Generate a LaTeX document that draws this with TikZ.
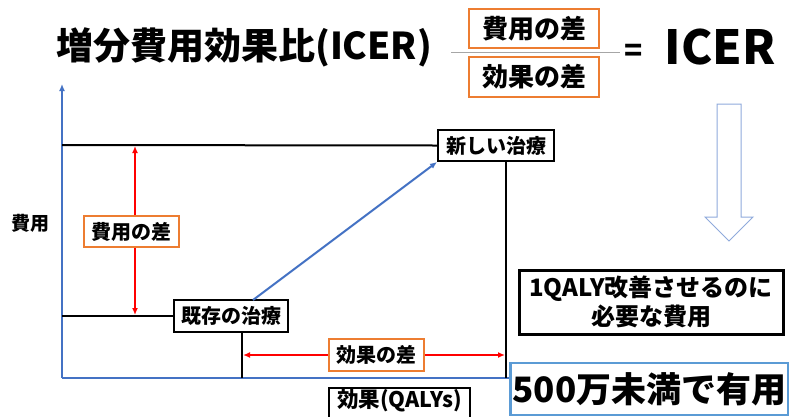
\documentclass[tikz,border=0pt]{standalone}
\usepackage{fontspec}
\setmainfont{Noto Sans CJK JP}
\usetikzlibrary{arrows.meta}
\definecolor{axisblue}{HTML}{4472C4}
\definecolor{boxorange}{HTML}{ED7D31}
\definecolor{boxblue}{HTML}{5B9BD5}
\definecolor{arrowblue}{HTML}{8FAADC}
\newcommand{\fs}[1]{\fontsize{#1}{#1}\selectfont\bfseries}
\tikzset{
  x=1pt, y=-1pt,
  orangebox/.style={draw=boxorange, line width=2.5pt, fill=white, inner sep=0pt, align=center},
  blackbox/.style={draw=black, line width=2pt, fill=white, inner sep=0pt, align=center},
  axisline/.style={draw=axisblue, line width=2pt},
  blackline/.style={draw=black, line width=2pt},
  redarrow/.style={draw=red, line width=1.6pt, {Latex[length=7pt,width=6pt]}-{Latex[length=7pt,width=6pt]}},
}
\begin{document}
\begin{tikzpicture}
\useasboundingbox (0,0) rectangle (789,416);
\fill[white] (0,0) rectangle (789,416);
% title
\node[anchor=west, inner sep=0pt] (title) at (56,47) {\fs{37}増分費用効果比(ICER)};
\node[orangebox, minimum width=130pt, minimum height=39pt] (num) at (534,28.5) {\fs{26}費用の差};
\node[orangebox, minimum width=130pt, minimum height=40pt] (den) at (534,77) {\fs{26}効果の差};
\coordinate (fl) at (451,52);
\coordinate (fr) at (620,52);
\draw[draw=black!35, line width=1pt] (fl) -- (fr);
\node[inner sep=0pt] (eq) at (634,53) {\fs{30}=};
\node[inner sep=0pt] (icer) at (720,47) {\fs{47}ICER};
% axes
\coordinate (O) at (62,378);
\coordinate (ytop) at (62,84);
\coordinate (xend) at (530,378);
\path[axisline] (O) -- (xend);
\draw[axisline, -{Latex[length=7pt,width=6pt]}] (O) -- (ytop);
\node[inner sep=0pt] (ylab) at (31,223) {\fs{19}費用};
% treatments
\node[blackbox, minimum width=116pt, minimum height=31pt] (new) at (496,145.5) {\fs{20}新しい治療};
\node[blackbox, minimum width=114pt, minimum height=32pt] (old) at (231,316) {\fs{20}既存の治療};
\coordinate (ynew) at (62,145);
\coordinate (yold) at (62,316);
\coordinate (newfoot) at (506,378);
\coordinate (oldfoot) at (242,378);
\draw[blackline] (ynew) -- (new.west);
\draw[blackline] (yold) -- (old.west);
\draw[blackline] (new.south -| newfoot) -- (newfoot);
\draw[blackline] (old.south -| oldfoot) -- (oldfoot);
% blue diagonal
\coordinate (dstart) at (253,300);
\draw[draw=axisblue, line width=2pt, -{Latex[length=7pt,width=6pt]}] (dstart) -- (new.south west);
% cost difference
\coordinate (ca) at (135,146);
\coordinate (cb) at (135,315);
\draw[redarrow] (ca) -- (cb);
\node[orangebox, minimum width=95pt, minimum height=31pt] (cdiff) at (131.5,231.5) {\fs{20}費用の差};
% effect difference
\coordinate (ea) at (243,355);
\coordinate (eb) at (505,355);
\draw[redarrow] (ea) -- (eb);
\node[orangebox, minimum width=95pt, minimum height=32pt] (ediff) at (376.5,355) {\fs{20}効果の差};
% x label
\node[blackbox, minimum width=141pt, minimum height=40pt, anchor=north] (xlab) at (399.5,387) {};
\node[inner sep=0pt, anchor=north] (xlabt) at (399.5,389) {\fs{21.5}効果(QALYs)};
% hollow arrow
\draw[draw=arrowblue, line width=1pt, fill=white] (717,104) -- (741,104) -- (741,217) -- (753,217) -- (729,241) -- (705,217) -- (717,217) -- cycle;
% note
\node[draw=black, line width=3pt, fill=white, inner sep=0pt, align=center, minimum width=264pt, minimum height=64pt] (note) at (651,302) {\fs{24}1QALY改善させるのに\\[2pt]\fs{24}必要な費用};
\node[draw=boxblue, line width=2.5pt, fill=white, inner sep=0pt, minimum width=278pt, minimum height=52pt] (res) at (649.5,389) {\fs{35}500万未満で有用};
\end{tikzpicture}
\end{document}
